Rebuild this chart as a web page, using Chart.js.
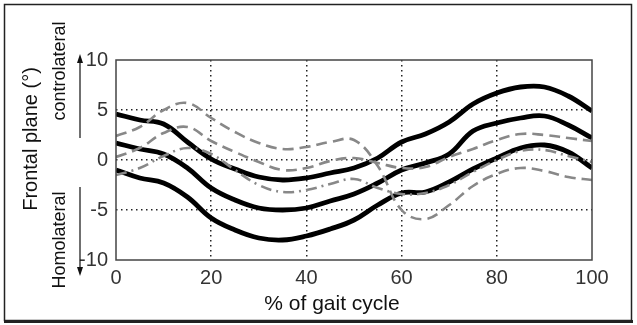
<!DOCTYPE html>
<html>
<head>
<meta charset="utf-8">
<script src="https://cdn.jsdelivr.net/npm/chart.js@4.4.1/dist/chart.umd.min.js"></script>
<style>
  html, body { margin: 0; padding: 0; background: #fff; }
  #wrap { width: 637px; height: 325px; }
</style>
</head>
<body>
<div id="wrap"><canvas id="gait" width="637" height="325"></canvas></div>
<script>
// % of gait cycle (sample points)
const pct = [0, 5, 10, 15, 20, 25, 30, 35, 40, 45, 50, 55, 60, 65, 70, 75, 80, 85, 90, 95, 100];

// black curves (mean +/- SD)
const blackUpper = [4.6, 4.0, 3.6, 1.8, 0.1, -0.9, -1.7, -2.0, -1.8, -1.3, -0.8, 0.2, 1.8, 2.6, 3.8, 5.6, 6.7, 7.3, 7.3, 6.4, 4.9];
const blackMean  = [1.7, 1.1, 0.6, -0.8, -2.8, -4.0, -4.8, -5.0, -4.8, -4.1, -3.4, -2.3, -1.0, -0.3, 0.6, 2.9, 3.7, 4.2, 4.4, 3.5, 2.2];
const blackLower = [-1.0, -1.8, -2.3, -3.7, -5.8, -7.0, -7.8, -8.0, -7.6, -6.9, -6.0, -4.5, -3.3, -3.2, -2.2, -0.9, 0.2, 1.2, 1.5, 0.8, -0.8];

// gray dashed curves
const grayA = [2.4, 3.3, 5.0, 5.7, 4.2, 2.8, 1.7, 1.1, 1.3, 1.8, 2.0, -0.6, -5.0, -5.9, -4.5, -2.6, -1.4, -0.8, -1.1, -1.7, -2.0];
const grayB = [0.3, 1.2, 2.7, 3.3, 1.9, 0.8, -0.2, -1.0, -0.8, -0.1, 0.2, -0.3, -0.8, -0.7, 0.3, 1.1, 2.0, 2.6, 2.5, 2.2, 1.9];
const grayC = [-1.5, -0.8, 0.4, 1.2, 0.6, -1.0, -2.5, -3.2, -3.0, -2.4, -1.9, -2.8, -3.4, -3.3, -2.5, -1.2, 0.0, 0.9, 1.0, 0.4, -0.2];

const xTicks = [0, 20, 40, 60, 80, 100];
const yTicks = [-10, -5, 0, 5, 10];

const FONT = "'Liberation Sans', Arial, sans-serif";

function toPoints(ys) {
    return pct.map((x, i) => ({ x: x, y: ys[i] }));
}

function blackSet(ys) {
    return {
        data: toPoints(ys),
        borderColor: '#000',
        borderWidth: 4.8,
        pointRadius: 0,
        fill: false,
        tension: 0.4
    };
}

function graySet(ys, dash) {
    return {
        data: toPoints(ys),
        borderColor: '#888',
        borderWidth: 2.6,
        borderDash: dash,
        pointRadius: 0,
        fill: false,
        tension: 0.4
    };
}

// frame, arrows and side labels
const decorations = {
    id: 'decorations',
    afterDatasetsDraw(chart) {
        const ctx = chart.ctx;
        const a = chart.chartArea;
        ctx.save();

        // plot box
        ctx.strokeStyle = '#444';
        ctx.lineWidth = 1.5;
        ctx.strokeRect(a.left, a.top, a.right - a.left, a.bottom - a.top);

        // outer frame
        ctx.strokeStyle = '#222';
        ctx.lineWidth = 1.5;
        ctx.strokeRect(4.5, 4.5, 627, 316);
        ctx.lineWidth = 3;
        ctx.beginPath();
        ctx.moveTo(4, 321.5);
        ctx.lineTo(633, 321.5);
        ctx.stroke();

        // arrows
        ctx.strokeStyle = '#111';
        ctx.fillStyle = '#111';
        ctx.lineWidth = 1.2;
        ctx.beginPath();
        ctx.moveTo(80, 138); ctx.lineTo(80, 60);
        ctx.moveTo(80, 187); ctx.lineTo(80, 270);
        ctx.stroke();
        ctx.beginPath();
        ctx.moveTo(80, 54); ctx.lineTo(77, 63); ctx.lineTo(83, 63); ctx.closePath();
        ctx.moveTo(80, 276); ctx.lineTo(77, 267); ctx.lineTo(83, 267); ctx.closePath();
        ctx.fill();

        // texts
        ctx.fillStyle = '#111';
        ctx.textAlign = 'center';
        ctx.textBaseline = 'middle';

        ctx.font = '21px ' + FONT;
        ctx.fillText('% of gait cycle', 332, 304);

        ctx.save();
        ctx.translate(31, 139);
        ctx.rotate(-Math.PI / 2);
        ctx.font = '20px ' + FONT;
        ctx.fillText('Frontal plane (°)', 0, 0);
        ctx.restore();

        ctx.save();
        ctx.translate(60, 71);
        ctx.rotate(-Math.PI / 2);
        ctx.font = '18px ' + FONT;
        ctx.fillText('controlateral', 0, 0);
        ctx.restore();

        ctx.save();
        ctx.translate(60, 240);
        ctx.rotate(-Math.PI / 2);
        ctx.font = '18px ' + FONT;
        ctx.fillText('Homolateral', 0, 0);
        ctx.restore();

        ctx.restore();
    }
};

function innerGrid(ctx) {
    const v = ctx.tick ? ctx.tick.value : null;
    const s = ctx.scale;
    if (v === s.min || v === s.max) return 'rgba(0,0,0,0)';
    return '#222';
}

new Chart(document.getElementById('gait'), {
    type: 'line',
    data: {
        datasets: [
            graySet(grayA, [11, 6]),
            graySet(grayB, [11, 6]),
            graySet(grayC, [11, 5, 2, 5]),
            blackSet(blackUpper),
            blackSet(blackMean),
            blackSet(blackLower)
        ]
    },
    options: {
        responsive: false,
        animation: false,
        layout: { padding: { top: 60, right: 45, left: 0, bottom: 0 } },
        plugins: {
            legend: { display: false },
            tooltip: { enabled: false }
        },
        scales: {
            x: {
                type: 'linear',
                min: 0,
                max: 100,
                afterFit: (s) => { s.height = 65; },
                afterBuildTicks: (s) => { s.ticks = xTicks.map(v => ({ value: v })); },
                grid: { color: innerGrid, lineWidth: 1.5, drawTicks: false },
                border: { display: false, dash: [1.5, 3.5] },
                ticks: {
                    padding: 6,
                    color: '#333',
                    font: { family: FONT, size: 20 }
                }
            },
            y: {
                min: -10,
                max: 10,
                afterFit: (s) => { s.width = 116; },
                afterBuildTicks: (s) => { s.ticks = yTicks.map(v => ({ value: v })); },
                grid: { color: innerGrid, lineWidth: 1.5, drawTicks: false },
                border: { display: false, dash: [1.5, 3.5] },
                ticks: {
                    padding: 8,
                    color: '#333',
                    font: { family: FONT, size: 20 }
                }
            }
        }
    },
    plugins: [decorations]
});
</script>
</body>
</html>
